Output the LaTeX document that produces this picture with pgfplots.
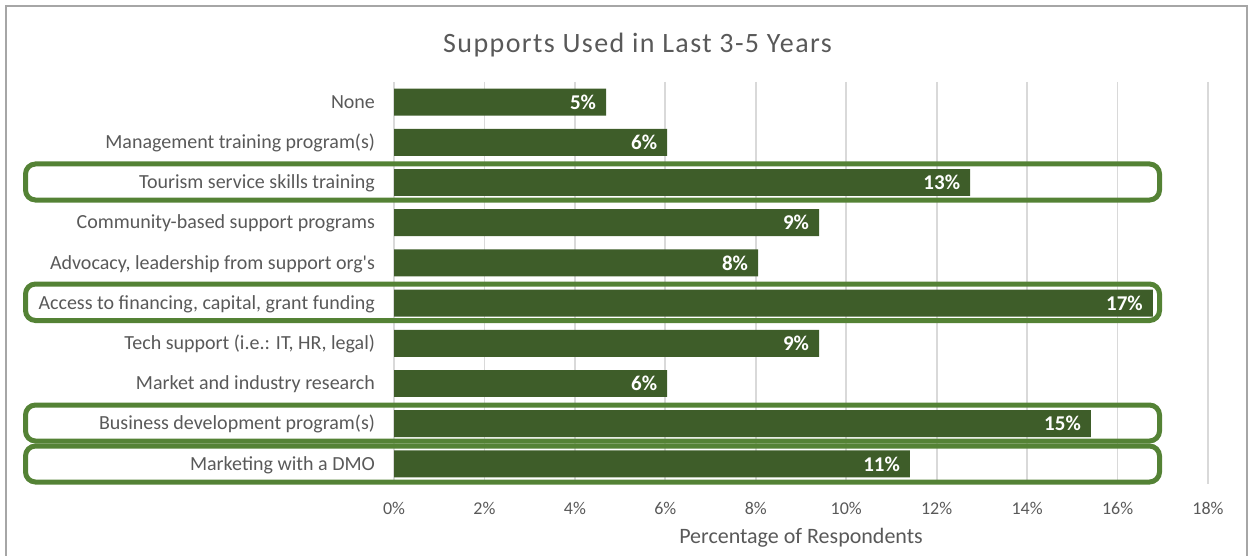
\documentclass[border=0pt]{standalone}
\usepackage{pgfplots}
\pgfplotsset{compat=1.18}
\usepackage{fontspec}
\setmainfont{Carlito}
\definecolor{barc}{HTML}{3E5D29}
\definecolor{boxc}{HTML}{548235}
\definecolor{txt}{HTML}{595959}
\definecolor{gridc}{HTML}{D9D9D9}
\definecolor{frame}{HTML}{A6A6A6}
\begin{document}
\begin{tikzpicture}[x=0.5pt,y=-0.5pt]
\path[use as bounding box] (0,0) rectangle (1248,556);
\draw[frame, line width=1pt] (6,560) -- (6,6.5) -- (1246.5,6.5) -- (1246.5,560);
\node[anchor=base, text=txt, font=\fontsize{14}{16}\selectfont\addfontfeatures{LetterSpace=5}] at (637.5,53) {Supports Used in Last 3-5 Years};
\begin{axis}[
  at={(197pt,-242pt)}, anchor=south west,
  scale only axis, width=407pt, height=201pt,
  xbar, bar width=0.67,
  xmin=0, xmax=18, ymin=-0.5, ymax=9.5, y dir=reverse,
  /pgf/number format/assume math mode=true,
  xtick={0,2,...,18},
  xticklabels={0\%,2\%,4\%,6\%,8\%,10\%,12\%,14\%,16\%,18\%},
  ytick={0,...,9},
  yticklabels={None,Management training program(s),Tourism service skills training,Community-based support programs,{Advocacy, leadership from support org\textquotesingle s},{Access to financing, capital, grant funding},{Tech support (i.e.: IT, HR, legal)},Market and industry research,Business development program(s),Marketing with a DMO},
  major tick length=0,
  axis line style={draw=none},
  xmajorgrids, major grid style={gridc, line width=0.9pt},
  xticklabel style={anchor=base, yshift=-15pt, text=txt, font=\fontsize{9}{10}\selectfont},
  yticklabel style={anchor=base east, yshift=-3.1pt, xshift=-6pt, text=txt, font=\fontsize{10}{12}\selectfont},
  xlabel={Percentage of Respondents},
  xlabel style={at={(axis description cs:0.5,0)}, anchor=base, yshift=-29.75pt, text=txt, font=\fontsize{11}{12}\selectfont},
  nodes near coords={\pgfmathprintnumber[fixed,precision=0]{\pgfplotspointmeta}\%},
  every node near coord/.append style={anchor=east, xshift=-1.5pt, text=white, font=\fontsize{10.5}{12}\selectfont\bfseries},
  clip=false,
]
\addplot[fill=barc, draw=none] coordinates {
(4.69,0) (6.04,1) (12.74,2) (9.40,3) (8.05,4) (16.78,5) (9.40,6) (6.04,7) (15.41,8) (11.41,9)};
\end{axis}
\begin{scope}[boxc, line width=2.5pt, rounded corners=5pt]
\draw (25.5,164) rectangle (1159.5,200);
\draw (25.5,284) rectangle (1159.5,320.5);
\draw (25.5,405) rectangle (1159.5,441);
\draw (25.5,446) rectangle (1159.5,482);
\end{scope}
\end{tikzpicture}
\end{document}
